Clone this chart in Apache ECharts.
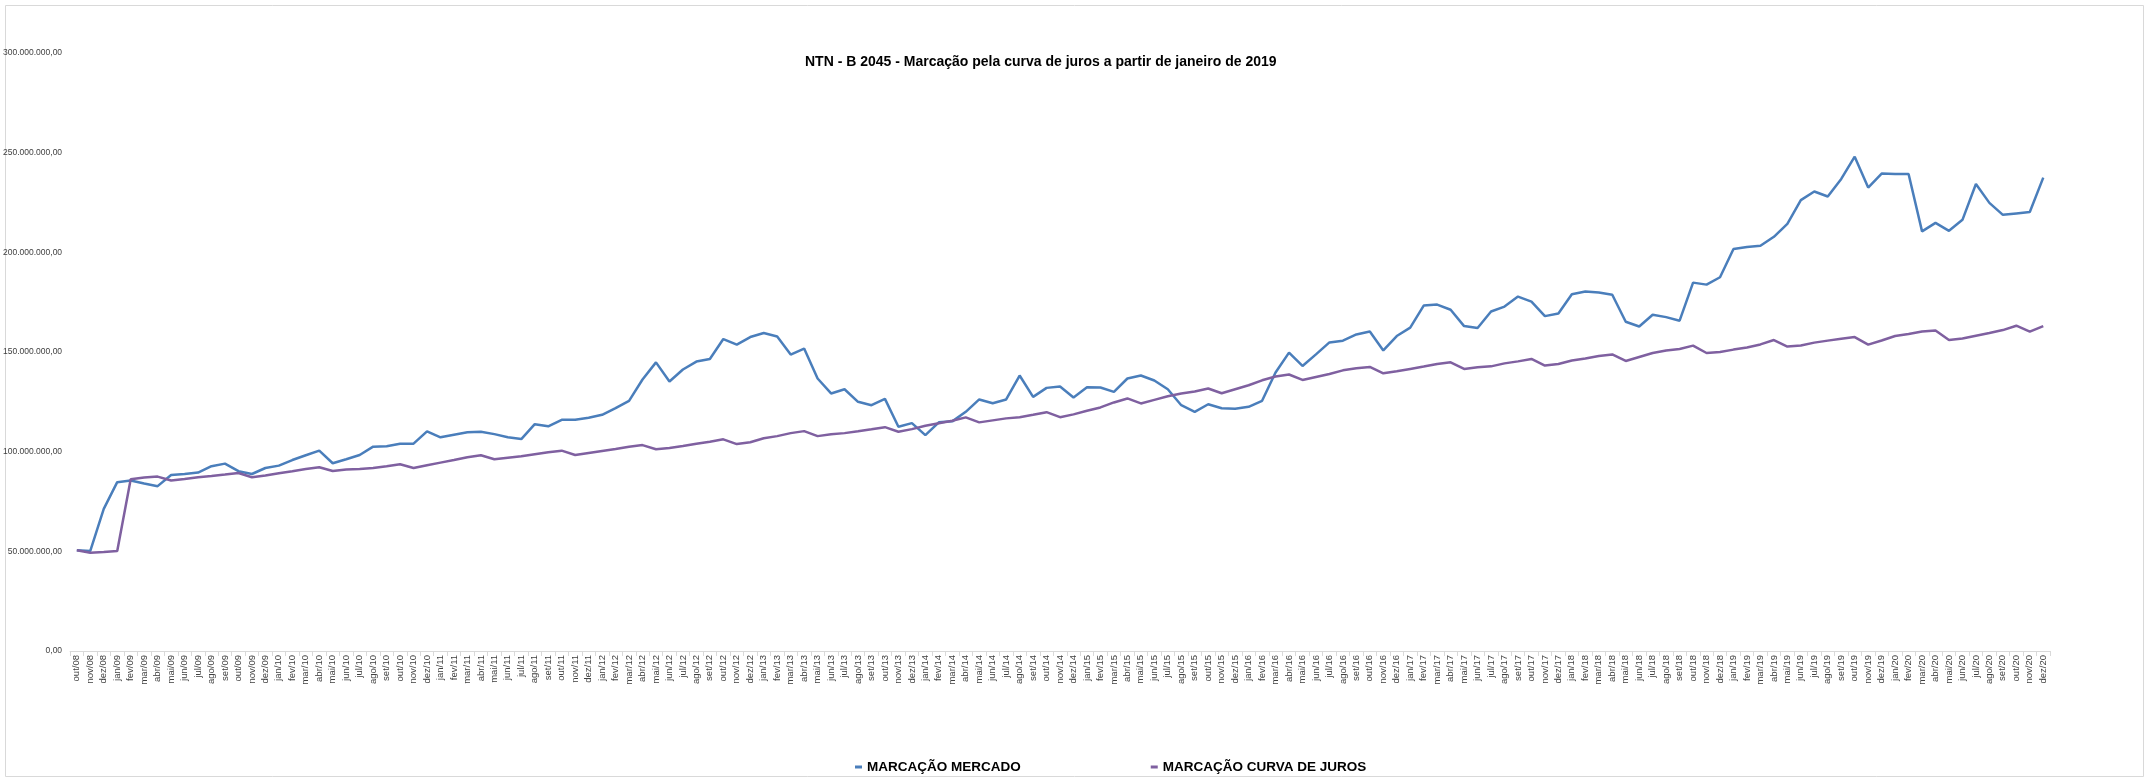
<!DOCTYPE html>
<html>
<head>
<meta charset="utf-8">
<script src="https://cdn.jsdelivr.net/npm/echarts@6/dist/echarts.min.js"></script>
<style>html,body{margin:0;padding:0;background:#fff;}#c{width:2150px;height:782px;}</style>
</head>
<body>
<div id="c"></div>
<script>
var categories = [
 'out/08','nov/08','dez/08',
 'jan/09','fev/09','mar/09','abr/09','mai/09','jun/09','jul/09','ago/09','set/09','out/09','nov/09','dez/09',
 'jan/10','fev/10','mar/10','abr/10','mai/10','jun/10','jul/10','ago/10','set/10','out/10','nov/10','dez/10',
 'jan/11','fev/11','mar/11','abr/11','mai/11','jun/11','jul/11','ago/11','set/11','out/11','nov/11','dez/11',
 'jan/12','fev/12','mar/12','abr/12','mai/12','jun/12','jul/12','ago/12','set/12','out/12','nov/12','dez/12',
 'jan/13','fev/13','mar/13','abr/13','mai/13','jun/13','jul/13','ago/13','set/13','out/13','nov/13','dez/13',
 'jan/14','fev/14','mar/14','abr/14','mai/14','jun/14','jul/14','ago/14','set/14','out/14','nov/14','dez/14',
 'jan/15','fev/15','mar/15','abr/15','mai/15','jun/15','jul/15','ago/15','set/15','out/15','nov/15','dez/15',
 'jan/16','fev/16','mar/16','abr/16','mai/16','jun/16','jul/16','ago/16','set/16','out/16','nov/16','dez/16',
 'jan/17','fev/17','mar/17','abr/17','mai/17','jun/17','jul/17','ago/17','set/17','out/17','nov/17','dez/17',
 'jan/18','fev/18','mar/18','abr/18','mai/18','jun/18','jul/18','ago/18','set/18','out/18','nov/18','dez/18',
 'jan/19','fev/19','mar/19','abr/19','mai/19','jun/19','jul/19','ago/19','set/19','out/19','nov/19','dez/19',
 'jan/20','fev/20','mar/20','abr/20','mai/20','jun/20','jul/20','ago/20','set/20','out/20','nov/20','dez/20'
];

// values in millions of reais
var mercado = [
 50.5,50.2,71.3,
 84.7,85.5,84,82.7,88.3,88.8,89.5,92.7,94,90.2,88.8,91.8,
 93,95.8,98.2,100.5,94.2,96.2,98.3,102.5,102.7,104,104,110.2,
 107.2,108.5,109.7,110,108.8,107.2,106.3,113.8,112.7,116,116,117,
 118.5,121.8,125.5,136.2,144.8,135.2,141.2,145.2,146.5,156.5,153.7,157.5,
 159.5,157.8,148.7,151.7,136.7,129.2,131.3,125,123.3,126.5,112.5,114.3,
 108.3,114.7,115.2,120,126.2,124.3,126.2,138.2,127.5,132,132.7,127.2,
 132.3,132.2,130,136.7,138.2,135.7,131.3,123.3,120,123.8,121.8,121.5,
 122.5,125.5,139.7,149.7,143,148.8,154.8,155.7,158.8,160.3,150.8,158,
 162.2,173.3,173.8,171.2,163,162,170.3,172.8,177.8,175.3,168,169.3,
 179,180.3,179.8,178.7,165.2,162.8,168.7,167.5,165.7,184.8,183.8,187.5,
 201.7,202.7,203.3,207.8,214.3,226.2,230.5,228,236.8,248,232.5,239.5,
 239.3,239.3,210.5,214.8,210.8,216.3,234.3,224.8,218.8,219.5,220.2,237.5
];

var curvaJuros = [
 50.5,49.3,49.7,
 50.2,86.2,87,87.5,85.5,86.3,87.2,87.8,88.5,89.3,87.2,88,
 89.2,90.2,91.3,92.2,90.3,91,91.3,91.8,92.7,93.7,91.8,93.2,
 94.5,95.8,97.2,98.2,96.2,97,97.7,98.7,99.7,100.5,98.3,99.3,
 100.3,101.3,102.5,103.3,101.2,101.8,102.8,104,105,106.2,103.8,104.7,
 106.7,107.8,109.3,110.3,107.8,108.7,109.3,110.2,111.2,112.3,110,111.3,
 113,114.3,115.5,117.2,114.7,115.7,116.7,117.3,118.5,119.8,117.3,118.7,
 120.5,122.2,124.7,126.7,124.2,126,127.8,129.2,130.2,131.7,129.3,131.3,
 133.3,135.8,137.7,138.7,136,137.5,139,140.8,141.8,142.5,139.3,140.3,
 141.5,142.7,144,144.8,141.5,142.3,142.8,144.3,145.3,146.5,143.2,144,
 145.7,146.7,148,148.8,145.5,147.5,149.5,150.7,151.5,153.2,149.5,150,
 151.2,152.3,153.8,156,152.7,153.3,154.7,155.7,156.7,157.5,153.7,155.8,
 158,159,160.3,160.8,156,156.8,158.2,159.5,161,163.2,160.2,163
];

var seriesNames = ['MARCAÇÃO MERCADO', 'MARCAÇÃO CURVA DE JUROS'];
var titleText = 'NTN - B 2045 - Marcação pela curva de juros a partir de janeiro de 2019';

function fmtBR(vMillions) {
  var n = Math.round(vMillions * 1000000);
  var s = String(n).replace(/\B(?=(\d{3})+(?!\d))/g, '.');
  return s + ',00';
}

var chart = echarts.init(document.getElementById('c'), null, {renderer: 'canvas'});
var FONT = '"Liberation Sans", Arial, sans-serif';
chart.setOption({
  animation: false,
  backgroundColor: '#ffffff',
  textStyle: {fontFamily: FONT},
  graphic: [{
    type: 'rect', silent: true,
    shape: {x: 5.5, y: 5.5, width: 2138, height: 771},
    style: {fill: 'none', stroke: '#d9d9d9', lineWidth: 1}
  }],
  title: {
    text: titleText,
    left: 800, top: 50,
    textStyle: {fontFamily: FONT, fontSize: 14, fontWeight: 'bold', color: '#000000'}
  },
  legend: {
    data: seriesNames,
    left: 850, top: 755,
    icon: 'rect', itemWidth: 7, itemHeight: 3, itemGap: 130,
    textStyle: {fontFamily: FONT, fontSize: 13.5, fontWeight: 'bold', color: '#000000'}
  },
  grid: {left: 70, right: 100, top: 53, bottom: 131, containLabel: false},
  xAxis: {
    type: 'category',
    data: categories,
    boundaryGap: true,
    axisLine: {lineStyle: {color: '#d9d9d9', width: 1}},
    axisTick: {show: true, interval: 0, length: 5, lineStyle: {color: '#d9d9d9'}},
    axisLabel: {interval: 0, rotate: 90, fontSize: 9.5, color: '#404040', margin: 4, fontFamily: FONT}
  },
  yAxis: {
    type: 'value',
    min: 0, max: 300, interval: 50,
    axisLine: {show: false},
    axisTick: {show: false},
    splitLine: {show: false},
    axisLabel: {fontSize: 8.5, color: '#404040', margin: 8, fontFamily: FONT,
      formatter: function (v) { return v === 0 ? '0,00' : fmtBR(v); }}
  },
  series: [
    {name: seriesNames[0], type: 'line', data: mercado, symbol: 'none',
     lineStyle: {color: '#4a7ebb', width: 2.5}, itemStyle: {color: '#4a7ebb'}},
    {name: seriesNames[1], type: 'line', data: curvaJuros, symbol: 'none',
     lineStyle: {color: '#7f60a0', width: 2.5}, itemStyle: {color: '#7f60a0'}}
  ]
});
</script>
</body>
</html>
